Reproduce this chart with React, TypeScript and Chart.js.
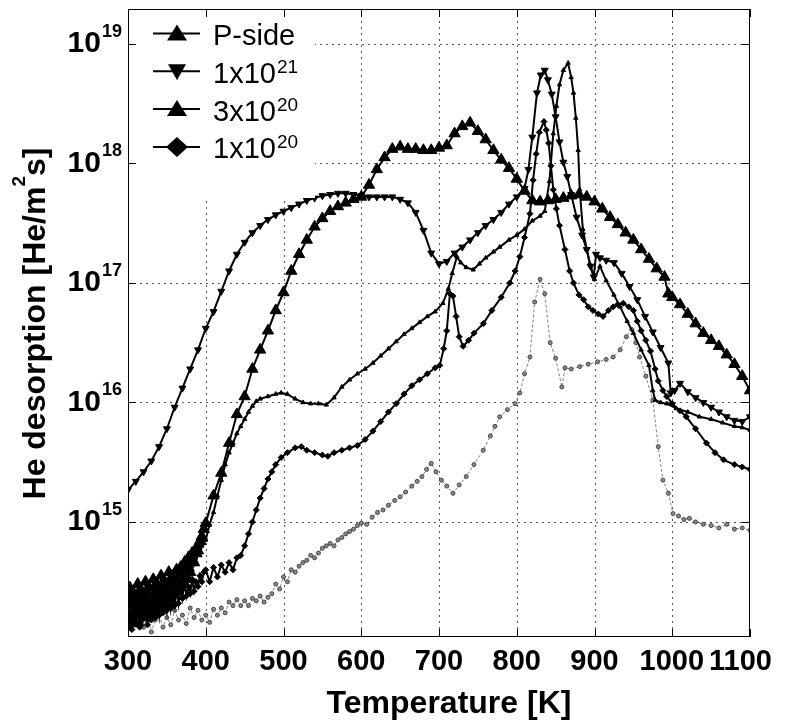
import React, { useEffect, useRef } from 'react';
import { Chart, registerables } from 'chart.js';

Chart.register(...registerables);

const FONT = '"Liberation Sans", Arial, Helvetica, sans-serif';

// Axis ranges
const X_MIN = 300;
const X_MAX = 1100;
const Y_MIN = 1.09e14;
const Y_MAX = 1.96e19;

// Tick labels
const xTicks = [300, 400, 500, 600, 700, 800, 900, 1000, 1100];
const yDecades = [15, 16, 17, 18, 19];

// Titles / legend
const xTitle = 'Temperature [K]';
const yTitleParts = ['He desorption [He/m', '2', 's]'];
const legendBase = ['P-side', '1x10', '3x10', '1x10'];
const legendSup = ['', '21', '20', '20'];

// Series: [temperature K, log10(He desorption He/m^2s)]
const pSide: [number, number][] = [
  [300, 14.2], [302.5, 14.45], [305, 14.18], [307.5, 14.4], [310, 14.15], [312.5, 14.48], [315, 14.25],
  [317.5, 14.42], [320, 14.2], [322.5, 14.5], [325, 14.28], [327.5, 14.45], [330, 14.22], [332.5, 14.52],
  [335, 14.3], [337.5, 14.48], [340, 14.26], [342.5, 14.55], [345, 14.32], [347.5, 14.5], [350, 14.3],
  [352.5, 14.58], [355, 14.36], [357.5, 14.55], [360, 14.4], [362.5, 14.6], [365, 14.45], [367.5, 14.62],
  [370, 14.5], [372.5, 14.66], [375, 14.52], [377.5, 14.7], [380, 14.58], [382.5, 14.74], [385, 14.66],
  [387.5, 14.78], [390, 14.76], [392.5, 14.84], [395, 14.88], [397.5, 14.94],
  [400, 14.99], [410, 15.22], [420, 15.41], [430, 15.66],
  [440, 15.9], [450, 16.05], [460, 16.28], [470, 16.44], [480, 16.6], [490, 16.77], [500, 16.92], [510, 17.1],
  [520, 17.24], [530, 17.36], [540, 17.47], [550, 17.54], [560, 17.6], [570, 17.64], [580, 17.67], [590, 17.7],
  [600, 17.72], [610, 17.82], [620, 17.95], [630, 18.05], [640, 18.12], [650, 18.14], [660, 18.12], [670, 18.12],
  [680, 18.11], [690, 18.11], [700, 18.13], [710, 18.15], [720, 18.25], [730, 18.31], [740, 18.34], [750, 18.27],
  [760, 18.2], [770, 18.11], [780, 18.03], [790, 17.96], [800, 17.87], [810, 17.77], [820, 17.69], [830, 17.68],
  [840, 17.69], [850, 17.7], [860, 17.71], [870, 17.73], [880, 17.74], [890, 17.72], [900, 17.68], [910, 17.62],
  [920, 17.55], [930, 17.49], [940, 17.42], [950, 17.36], [960, 17.28], [970, 17.2], [980, 17.12], [990, 17.05],
  [995, 16.91], [1000, 16.88], [1010, 16.82], [1020, 16.74], [1030, 16.66], [1040, 16.58], [1050, 16.52],
  [1060, 16.47], [1070, 16.4], [1080, 16.32], [1090, 16.22], [1100, 16.1],
];

const flu1e21: [number, number][] = [
  [300, 15.27], [310, 15.34], [320, 15.42], [330, 15.51], [340, 15.63], [350, 15.78], [360, 15.96], [370, 16.12],
  [380, 16.28], [390, 16.44], [400, 16.62], [410, 16.76], [420, 16.93], [430, 17.1], [440, 17.24], [450, 17.34],
  [460, 17.42], [470, 17.48], [480, 17.53], [490, 17.57], [500, 17.6], [510, 17.63], [520, 17.66], [530, 17.69],
  [540, 17.71], [550, 17.73], [560, 17.74], [570, 17.75], [580, 17.75], [590, 17.74], [600, 17.73], [610, 17.72],
  [620, 17.72], [630, 17.72], [640, 17.72], [650, 17.7], [660, 17.67], [670, 17.59], [680, 17.44], [690, 17.25],
  [700, 17.16], [710, 17.18], [720, 17.25], [730, 17.3], [740, 17.36], [750, 17.42], [760, 17.48], [770, 17.53],
  [780, 17.59], [790, 17.66], [800, 17.72], [810, 17.79], [815, 17.95], [820, 18.22], [826, 18.59], [831, 18.74],
  [836, 18.78], [840, 18.7], [845, 18.58], [850, 18.39], [855, 18.18], [860, 18.01], [865, 17.89], [870, 17.74],
  [877, 17.55], [884, 17.4], [890, 17.28], [895, 17.14], [899, 17.05], [902, 17.24], [907, 17.21], [915, 17.19],
  [925, 17.17], [935, 17.08], [945, 16.97], [955, 16.86], [965, 16.72], [975, 16.59], [985, 16.46], [995, 16.33],
  [998, 16.08], [1003, 16.1], [1010, 16.16], [1020, 16.09], [1030, 16.04], [1040, 16.0], [1050, 15.96],
  [1060, 15.92], [1070, 15.88], [1080, 15.85], [1090, 15.84], [1100, 15.88],
];

const flu3e20: [number, number][] = [
  [300, 14.3], [302.5, 14.12], [305, 14.38], [307.5, 14.16], [310, 14.42], [312.5, 14.2], [315, 14.35],
  [317.5, 14.14], [320, 14.4], [322.5, 14.22], [325, 14.46], [327.5, 14.18], [330, 14.38], [332.5, 14.25],
  [335, 14.48], [337.5, 14.22], [340, 14.44], [342.5, 14.28], [345, 14.5], [347.5, 14.3], [350, 14.46],
  [352.5, 14.34], [355, 14.52], [357.5, 14.36], [360, 14.5], [362.5, 14.4], [365, 14.56], [367.5, 14.45],
  [370, 14.58], [372.5, 14.48], [375, 14.62], [377.5, 14.54], [380, 14.65], [382.5, 14.6], [385, 14.7],
  [387.5, 14.66], [390, 14.74], [392.5, 14.72], [395, 14.8], [397.5, 14.82],
  [400, 14.85], [405, 14.98], [410, 15.08], [415, 15.22],
  [420, 15.35], [425, 15.48], [430, 15.58], [435, 15.66], [440, 15.74], [445, 15.8], [450, 15.86], [455, 15.92],
  [460, 15.97], [465, 16.01], [470, 16.03], [480, 16.05], [490, 16.07], [497, 16.08], [505, 16.07], [515, 16.03],
  [525, 16.0], [535, 15.99], [545, 15.99], [555, 15.98], [565, 16.04], [575, 16.13], [585, 16.19], [595, 16.24],
  [605, 16.28], [615, 16.33], [625, 16.39], [635, 16.45], [645, 16.51], [655, 16.57], [665, 16.62], [675, 16.67],
  [685, 16.72], [695, 16.76], [705, 16.83], [712, 16.95], [717, 17.08], [723, 17.22], [728, 17.17], [735, 17.13],
  [744, 17.11], [752, 17.16], [760, 17.21], [770, 17.26], [778, 17.3], [790, 17.36], [800, 17.4], [810, 17.45],
  [820, 17.52], [830, 17.56], [836, 17.6], [842, 17.85], [847, 18.25], [851, 18.48], [855, 18.66], [860, 18.78],
  [866, 18.84], [870, 18.72], [873, 18.59], [876, 18.38], [879, 18.11], [881, 17.78], [885, 17.45], [890, 17.28],
  [894, 17.16], [900, 17.03], [907, 17.14], [915, 17.02], [925, 16.9], [933, 16.8], [942, 16.68], [950, 16.58],
  [960, 16.44], [970, 16.31], [975, 16.1], [978, 16.02], [985, 16.0], [993, 15.99], [1005, 15.95], [1020, 15.92],
  [1035, 15.88], [1050, 15.86], [1065, 15.83], [1080, 15.8], [1090, 15.79], [1100, 15.77],
];

const flu1e20: [number, number][] = [
  [300, 14.25], [302.5, 14.4], [305, 14.1], [307.5, 14.35], [310, 14.15], [312.5, 14.38], [315, 14.12],
  [317.5, 14.3], [320, 14.2], [322.5, 14.42], [325, 14.14], [327.5, 14.36], [330, 14.18], [332.5, 14.4],
  [335, 14.2], [337.5, 14.34], [340, 14.22], [342.5, 14.44], [345, 14.24], [347.5, 14.38], [350, 14.26],
  [352.5, 14.46], [355, 14.28], [357.5, 14.4], [360, 14.3], [362.5, 14.48], [365, 14.32], [367.5, 14.44],
  [370, 14.36], [372.5, 14.5], [375, 14.38], [377.5, 14.46], [380, 14.4], [382.5, 14.52], [385, 14.42],
  [387.5, 14.5], [390, 14.46], [392.5, 14.55], [395, 14.5], [397.5, 14.58],
  [400, 14.6], [405, 14.5], [410, 14.62], [415, 14.54],
  [420, 14.64], [425, 14.58], [430, 14.66], [435, 14.6], [440, 14.7], [445, 14.72], [450, 14.8], [455, 14.9],
  [460, 15.0], [465, 15.1], [470, 15.2], [475, 15.28], [480, 15.36], [485, 15.42], [490, 15.48], [497, 15.54],
  [505, 15.58], [515, 15.62], [523, 15.63], [530, 15.6], [540, 15.58], [550, 15.56], [557, 15.55], [565, 15.58],
  [575, 15.6], [585, 15.62], [595, 15.64], [605, 15.69], [615, 15.76], [625, 15.84], [635, 15.92], [645, 15.99],
  [655, 16.07], [665, 16.14], [675, 16.19], [685, 16.24], [695, 16.29], [701, 16.31], [706, 16.45], [710, 16.6],
  [714, 16.91], [718, 16.89], [722, 16.72], [726, 16.55], [731, 16.47], [738, 16.52], [745, 16.58], [757, 16.66],
  [768, 16.77], [780, 16.88], [791, 17.0], [798, 17.1], [804, 17.22], [810, 17.38], [817, 17.58], [821, 17.86],
  [825, 18.08], [829, 18.26], [835, 18.35], [838, 18.28], [841, 18.17], [844, 17.98], [847, 17.78], [851, 17.62],
  [855, 17.48], [862, 17.28], [868, 17.1], [873, 17.0], [880, 16.9], [886, 16.86], [892, 16.8], [898, 16.77],
  [905, 16.74], [911, 16.72], [918, 16.77], [924, 16.8], [930, 16.82], [937, 16.83], [944, 16.8], [950, 16.77],
  [955, 16.68], [960, 16.6], [966, 16.52], [972, 16.43], [978, 16.28], [982, 16.18], [988, 16.1], [993, 16.05],
  [1000, 15.99], [1010, 15.93], [1018, 15.88], [1030, 15.78], [1044, 15.66], [1055, 15.58], [1066, 15.52],
  [1080, 15.48], [1090, 15.46], [1100, 15.44],
];

// Unlabelled grey curve
const reference: [number, number][] = [
  [300, 14.2], [305, 14.1], [310, 14.15], [315, 14.24], [320, 14.12], [325, 14.2], [330, 14.08], [335, 14.18],
  [340, 14.22], [345, 14.12], [350, 14.2], [355, 14.14], [360, 14.26], [365, 14.18], [370, 14.22], [375, 14.15],
  [380, 14.28], [385, 14.2], [390, 14.26], [395, 14.18], [400, 14.22], [405, 14.16], [410, 14.27], [415, 14.22],
  [420, 14.28], [425, 14.24], [430, 14.33], [435, 14.3], [440, 14.35], [445, 14.3], [450, 14.34], [455, 14.3],
  [460, 14.36], [465, 14.34], [470, 14.38], [475, 14.33], [480, 14.37], [485, 14.4], [490, 14.48], [495, 14.44],
  [500, 14.54], [505, 14.5], [510, 14.6], [515, 14.58], [520, 14.63], [525, 14.66], [530, 14.68], [535, 14.72],
  [540, 14.7], [545, 14.74], [550, 14.78], [555, 14.8], [560, 14.82], [565, 14.8], [570, 14.85], [575, 14.87],
  [580, 14.9], [585, 14.92], [590, 14.94], [595, 14.97], [600, 14.99], [607, 14.98], [614, 15.04], [621, 15.08],
  [628, 15.1], [635, 15.14], [643, 15.18], [650, 15.21], [657, 15.25], [665, 15.3], [672, 15.34], [678, 15.38],
  [684, 15.44], [690, 15.49], [696, 15.42], [703, 15.35], [710, 15.3], [718, 15.24], [726, 15.31], [735, 15.38],
  [745, 15.48], [757, 15.6], [766, 15.72], [772, 15.8], [778, 15.88], [788, 15.94], [798, 15.99], [804, 16.08],
  [810, 16.24], [817, 16.38], [823, 16.84], [830, 17.03], [836, 16.91], [843, 16.5], [850, 16.37], [858, 16.13],
  [862, 16.29], [870, 16.28], [881, 16.3], [892, 16.32], [904, 16.34], [915, 16.36], [924, 16.38], [933, 16.44],
  [941, 16.55], [948, 16.61], [953, 16.5], [958, 16.38], [966, 16.22], [975, 16.02], [982, 15.63], [988, 15.35],
  [995, 15.24], [1001, 15.07], [1008, 15.05], [1015, 15.02], [1022, 15.03], [1030, 15.0], [1040, 14.98],
  [1050, 14.97], [1060, 14.95], [1070, 14.98], [1080, 14.94], [1090, 14.95], [1100, 14.93],
];

const toPoints = (s: [number, number][]) => s.map(([t, lg]) => ({ x: t, y: Math.pow(10, lg) }));

function drawMarker(ctx: CanvasRenderingContext2D, kind: string, x: number, y: number) {
  ctx.beginPath();
  if (kind === 'up') {
    ctx.moveTo(x, y - 9);
    ctx.lineTo(x + 10, y + 7);
    ctx.lineTo(x - 10, y + 7);
  } else if (kind === 'down') {
    ctx.moveTo(x, y + 9);
    ctx.lineTo(x + 9, y - 7);
    ctx.lineTo(x - 9, y - 7);
  } else {
    ctx.moveTo(x, y - 10);
    ctx.lineTo(x + 11, y);
    ctx.lineTo(x, y + 10);
    ctx.lineTo(x - 11, y);
  }
  ctx.closePath();
  ctx.fillStyle = '#000';
  ctx.fill();
}

const decorPlugin = {
  id: 'decor',
  beforeDraw(chart: any) {
    const { ctx, width, height } = chart;
    ctx.save();
    ctx.fillStyle = '#fff';
    ctx.fillRect(0, 0, width, height);
    ctx.restore();
  },
  beforeDatasetsDraw(chart: any) {
    const { ctx, chartArea: a, scales } = chart;
    ctx.save();
    ctx.strokeStyle = '#555';
    ctx.lineWidth = 1;
    ctx.setLineDash([2, 4]);
    xTicks.forEach((v) => {
      if (v === X_MIN || v === X_MAX) return;
      const px = Math.round(scales.x.getPixelForValue(v)) + 0.5;
      ctx.beginPath();
      ctx.moveTo(px, a.top);
      ctx.lineTo(px, a.bottom);
      ctx.stroke();
    });
    yDecades.forEach((d) => {
      const py = Math.round(scales.y.getPixelForValue(Math.pow(10, d))) + 0.5;
      ctx.beginPath();
      ctx.moveTo(a.left, py);
      ctx.lineTo(a.right, py);
      ctx.stroke();
    });
    ctx.restore();
  },
  afterDatasetsDraw(chart: any) {
    const { ctx, chartArea: a, scales } = chart;
    ctx.save();

    // Legend (white box, no border)
    ctx.fillStyle = '#fff';
    ctx.fillRect(133, 11, 182, 187);
    const kinds = ['up', 'down', 'up', 'diamond'];
    legendBase.forEach((base, i) => {
      const ry = 33.5 + i * 37.8;
      ctx.strokeStyle = '#000';
      ctx.lineWidth = 2;
      ctx.beginPath();
      ctx.moveTo(153, ry);
      ctx.lineTo(200, ry);
      ctx.stroke();
      drawMarker(ctx, kinds[i], 177, ry);
      ctx.fillStyle = '#000';
      ctx.textAlign = 'left';
      ctx.textBaseline = 'alphabetic';
      ctx.font = `29px ${FONT}`;
      ctx.fillText(base, 213, ry + 11.5);
      if (legendSup[i]) {
        const w = ctx.measureText(base).width;
        ctx.font = `19px ${FONT}`;
        ctx.fillText(legendSup[i], 213 + w + 1, ry + 1.5);
      }
    });

    // Frame
    ctx.strokeStyle = '#000';
    ctx.lineWidth = 1;
    ctx.setLineDash([]);
    ctx.strokeRect(a.left + 0.5, a.top + 0.5, a.right - a.left - 1, a.bottom - a.top - 1);

    // Inward ticks
    const tl = 8;
    ctx.beginPath();
    xTicks.forEach((v) => {
      const px = Math.round(scales.x.getPixelForValue(v)) + 0.5;
      ctx.moveTo(px, a.bottom);
      ctx.lineTo(px, a.bottom - tl);
      ctx.moveTo(px, a.top);
      ctx.lineTo(px, a.top + tl);
    });
    yDecades.forEach((d) => {
      const py = Math.round(scales.y.getPixelForValue(Math.pow(10, d))) + 0.5;
      ctx.moveTo(a.left, py);
      ctx.lineTo(a.left + tl, py);
      ctx.moveTo(a.right, py);
      ctx.lineTo(a.right - tl, py);
    });
    ctx.stroke();

    // X tick labels (kept inside the figure and separated from each other)
    ctx.fillStyle = '#000';
    ctx.textBaseline = 'alphabetic';
    ctx.textAlign = 'left';
    ctx.font = `bold 29px ${FONT}`;
    let limit = 772;
    for (let i = xTicks.length - 1; i >= 0; i--) {
      const v = xTicks[i];
      const px = scales.x.getPixelForValue(v);
      const s = String(v);
      const w = ctx.measureText(s).width;
      let left = px - w / 2;
      if (left + w > limit) left = limit - w;
      ctx.fillText(s, left, 670);
      limit = left - 5;
    }

    // Y tick labels 10^n
    yDecades.forEach((d) => {
      const py = scales.y.getPixelForValue(Math.pow(10, d));
      ctx.font = `bold 18px ${FONT}`;
      const sup = String(d);
      const ws = ctx.measureText(sup).width;
      ctx.textAlign = 'left';
      ctx.fillText(sup, 122 - ws, py - 7);
      ctx.font = `bold 30px ${FONT}`;
      const wb = ctx.measureText('10').width;
      ctx.fillText('10', 122 - ws - 1 - wb, py + 8.5);
    });

    // X title
    ctx.font = `bold 32px ${FONT}`;
    ctx.textAlign = 'center';
    ctx.fillText(xTitle, 449, 713);

    // Y title (rotated, with superscript)
    ctx.save();
    ctx.translate(45, (a.top + a.bottom) / 2 + 0.5);
    ctx.rotate(-Math.PI / 2);
    ctx.textAlign = 'left';
    ctx.font = `bold 32px ${FONT}`;
    const w0 = ctx.measureText(yTitleParts[0]).width;
    const w2 = ctx.measureText(yTitleParts[2]).width;
    ctx.font = `bold 19px ${FONT}`;
    const w1 = ctx.measureText(yTitleParts[1]).width;
    let x0 = -(w0 + w1 + w2) / 2;
    ctx.font = `bold 32px ${FONT}`;
    ctx.fillText(yTitleParts[0], x0, 0);
    x0 += w0;
    ctx.font = `bold 19px ${FONT}`;
    ctx.fillText(yTitleParts[1], x0, -20);
    x0 += w1;
    ctx.font = `bold 32px ${FONT}`;
    ctx.fillText(yTitleParts[2], x0, 0);
    ctx.restore();

    ctx.restore();
  },
};

export default function App() {
  const canvasRef = useRef<HTMLCanvasElement | null>(null);

  useEffect(() => {
    if (!canvasRef.current) return;
    const black = '#000';
    const chart = new Chart(canvasRef.current, {
      type: 'line',
      data: {
        datasets: [
          {
            label: 'P-side',
            data: toPoints(pSide),
            borderColor: black,
            borderWidth: 2,
            pointStyle: 'triangle',
            pointRadius: 6.5,
            pointBackgroundColor: black,
            pointBorderColor: black,
            pointBorderWidth: 1,
          },
          {
            label: '1x10^21',
            data: toPoints(flu1e21),
            borderColor: black,
            borderWidth: 2,
            pointStyle: 'triangle',
            rotation: 180,
            pointRadius: 4,
            pointBackgroundColor: black,
            pointBorderColor: black,
            pointBorderWidth: 1,
          },
          {
            label: '3x10^20',
            data: toPoints(flu3e20),
            borderColor: black,
            borderWidth: 2,
            pointStyle: 'triangle',
            pointRadius: 2.5,
            pointBackgroundColor: black,
            pointBorderColor: black,
            pointBorderWidth: 1,
          },
          {
            label: '1x10^20',
            data: toPoints(flu1e20),
            borderColor: black,
            borderWidth: 2,
            pointStyle: 'rectRot',
            pointRadius: 3,
            pointBackgroundColor: black,
            pointBorderColor: black,
            pointBorderWidth: 1,
          },
          {
            label: 'reference',
            data: toPoints(reference),
            borderColor: '#808080',
            borderWidth: 1,
            borderDash: [3, 2],
            pointStyle: 'circle',
            pointRadius: 2,
            pointBackgroundColor: '#8a8a8a',
            pointBorderColor: '#444',
            pointBorderWidth: 1,
          },
        ] as any,
      },
      options: {
        animation: false,
        responsive: false,
        devicePixelRatio: 1,
        layout: { padding: { left: 128, right: 40, top: 9, bottom: 90 } },
        elements: { line: { tension: 0 } },
        scales: {
          x: { type: 'linear', min: X_MIN, max: X_MAX, display: false },
          y: { type: 'logarithmic', min: Y_MIN, max: Y_MAX, display: false },
        },
        plugins: {
          legend: { display: false },
          tooltip: { enabled: false },
        },
      } as any,
      plugins: [decorPlugin],
    });
    return () => chart.destroy();
  }, []);

  return (
    <div style={{ position: 'fixed', left: 0, top: 0, width: 790, height: 727, background: '#fff' }}>
      <canvas ref={canvasRef} width={790} height={727} style={{ display: 'block' }} />
    </div>
  );
}
